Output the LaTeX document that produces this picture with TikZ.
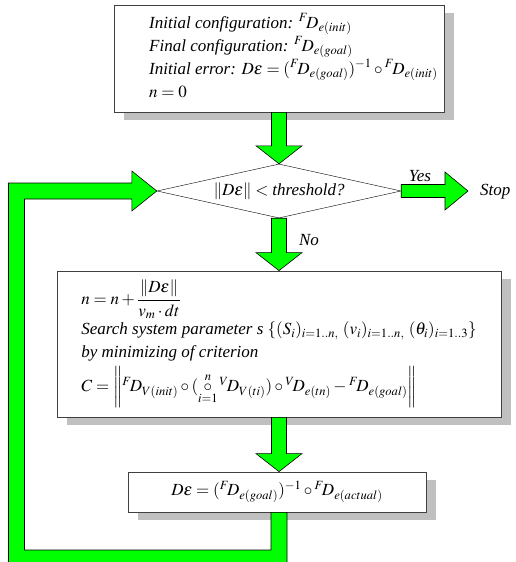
\documentclass[tikz,border=0pt]{standalone}
\usepackage{amsmath}
\usepackage{mathptmx}
\usepackage[no-math]{fontspec}
\setmainfont{Liberation Serif}
\usetikzlibrary{calc, shapes.geometric, shadows}

\definecolor{arrowgreen}{RGB}{0,255,0}
\definecolor{shadowgray}{RGB}{192,192,192}

\newcommand{\blockdown}[2]{%
  \draw[blockarrow] ($(#1)+(-7.5,0)$) -- ($(#2)+(-7.5,-18)$) -- ($(#2)+(-23,-18)$)
    -- (#2) -- ($(#2)+(23,-18)$) -- ($(#2)+(7.5,-18)$) -- ($(#1)+(7.5,0)$) -- cycle;}
\newcommand{\blockright}[2]{%
  \draw[blockarrow] ($(#1)+(0,-6.5)$) -- ($(#2)+(-23,-6.5)$) -- ($(#2)+(-23,-19)$)
    -- (#2) -- ($(#2)+(-23,19)$) -- ($(#2)+(-23,6.5)$) -- ($(#1)+(0,6.5)$) -- cycle;}

\begin{document}
\begin{tikzpicture}
  [
    x = 1pt, y = -1pt,
    every node/.style = {font = \itshape\fontsize{17}{23}\selectfont},
    box/.style = {draw = black!75, line width = 0.8pt, fill = white, inner sep = 0pt,
                  drop shadow = {shadow xshift = 10pt, shadow yshift = -8pt,
                                 fill = shadowgray, opacity = 1}},
    decision/.style = {diamond, draw, thin, aspect = 4.5, inner sep = 0pt,
                       minimum width = 244pt, minimum height = 54pt},
    blockarrow/.style = {draw = black, line width = 0.6pt, fill = arrowgreen},
    tag/.style = {inner sep = 0pt}
  ]
  \useasboundingbox (0,0) rectangle (515,562);

  % boxes
  \node[box, minimum width = 330pt, minimum height = 107pt] (init) at (279,58.5) {};
  \node[tag, anchor = base west] (inittext) at (149,28)
    {\begin{tabular}[t]{@{}l@{}}
       Initial configuration: ${}^{F}\!D_{e(init)}$\\
       Final configuration: ${}^{F}\!D_{e(goal)}$\\
       Initial error: $D\varepsilon=({}^{F}\!D_{e(goal)})^{-1}\circ{}^{F}\!D_{e(init)}$\\
       $n=0$
     \end{tabular}};
  \node[decision] (test) at (279,191) {$\|D\varepsilon\|<\mbox{\itshape threshold?}$};
  \node[box, minimum width = 444pt, minimum height = 146pt] (search) at (279,344)
    {\begin{tabular}{@{}l@{}}
       $n=n+\dfrac{\|D\varepsilon\|}{v_m\cdot dt}$\\[6pt]
       Search system parameter s $\{(S_i)_{i=1..n,}\ (v_i)_{i=1..n,}\ (\theta_i)_{i=1..3}\}$\\
       by minimizing of criterion\\[2pt]
       $C=\left\|{}^{F}\!D_{V(init)}\circ(\mathop{\circ}\limits_{i=1}^{n}{}^{V}\!D_{V(ti)})\circ{}^{V}\!D_{e(tn)}-{}^{F}\!D_{e(goal)}\right\|$
     \end{tabular}};
  \node[box, minimum width = 298pt, minimum height = 40pt] (update) at (277,492)
    {$D\varepsilon=({}^{F}\!D_{e(goal)})^{-1}\circ{}^{F}\!D_{e(actual)}$};

  % labels
  \node[tag, anchor = west] (stop) at (480,192) {Stop};
  \node[tag] (yes) at (420,176) {Yes};
  \node[tag] (no) at (309,240) {No};

  % block arrows
  \blockdown{init.south}{init.south |- test.north}
  \blockdown{test.south}{test.south |- search.north}
  \blockdown{search.south}{search.south |- update.north}
  \coordinate (stoptip) at ($(stop.west)+(-12,0)$);
  \blockright{test.east}{test.east -| stoptip}

  % loop back to the test
  \coordinate (loopbl) at (16.5,558);
  \coordinate (looptl) at (loopbl |- test.west);
  \draw[blockarrow] ($(search.south |- update.south)+(8,0)$)
    -- ($(search.south |- loopbl)+(8,8)$) -- ($(loopbl)+(-8,8)$)
    -- ($(looptl)+(-8,-8)$) -- ($(test.west)+(-25,-8)$) -- ($(test.west)+(-25,-20)$)
    -- (test.west) -- ($(test.west)+(-25,20)$) -- ($(test.west)+(-25,8)$)
    -- ($(looptl)+(8,8)$) -- ($(loopbl)+(8,-8)$) -- ($(search.south |- loopbl)+(-8,-8)$)
    -- ($(search.south |- update.south)+(-8,0)$) -- cycle;
\end{tikzpicture}
\end{document}
